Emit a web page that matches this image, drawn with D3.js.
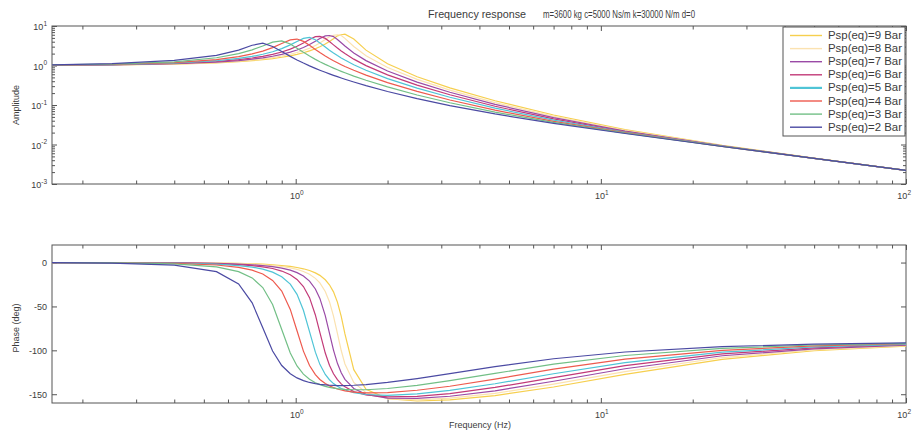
<!DOCTYPE html>
<html>
<head>
<meta charset="utf-8">
<script src="https://cdn.jsdelivr.net/npm/d3@7"></script>
<style>
  body { margin: 0; background: #fff; }
  svg { display: block; }
  text { font-family: "Liberation Sans", Arial, sans-serif; fill: #3c3c3c; }
</style>
</head>
<body>
<svg id="chart" width="912" height="434"></svg>
<script>
// Frequency grid (Hz) shared by every curve
const freqHz = [0.159, 0.25, 0.4, 0.55, 0.65, 0.72, 0.78, 0.84, 0.9, 0.96, 1.01, 1.06, 1.11, 1.16, 1.2, 1.25,
                1.29, 1.33, 1.37, 1.41, 1.45, 1.55, 1.7, 2.0, 2.5, 3.2, 4.5, 7, 12, 25, 50, 100];

// Amplitude ratio for each equivalent air-spring pressure
const amp2 = [1.043, 1.114, 1.345, 1.80, 2.45, 3.25, 3.667, 3.030, 2.257, 1.704, 1.384, 1.152, 0.979, 0.846, 0.761, 0.673,
              0.615, 0.564, 0.521, 0.483, 0.450, 0.382, 0.309, 0.220, 0.145, 0.0966, 0.0593, 0.0344, 0.0190, 0.00891, 0.00443, 0.00221];
const amp3 = [1.033, 1.083, 1.242, 1.569, 1.990, 2.486, 3.126, 3.893, 4.194, 3.497, 2.740, 2.153, 1.733, 1.431, 1.247, 1.068,
              0.954, 0.859, 0.780, 0.712, 0.654, 0.540, 0.423, 0.287, 0.179, 0.114, 0.0659, 0.0362, 0.0194, 0.00895, 0.00443, 0.00221];
const amp4 = [1.025, 1.065, 1.184, 1.412, 1.676, 1.962, 2.319, 2.839, 3.590, 4.458, 4.678, 4.079, 3.233, 2.541, 2.121, 1.735,
              1.504, 1.319, 1.171, 1.049, 0.947, 0.756, 0.570, 0.369, 0.221, 0.134, 0.0740, 0.0386, 0.0199, 0.00901, 0.00444, 0.00221];
const amp5 = [1.021, 1.053, 1.149, 1.321, 1.509, 1.699, 1.923, 2.232, 2.673, 3.326, 4.062, 4.849, 5.121, 4.496, 3.736, 2.931,
              2.443, 2.069, 1.781, 1.555, 1.372, 1.049, 0.758, 0.467, 0.268, 0.157, 0.0832, 0.0414, 0.0205, 0.00908, 0.00445, 0.00221];
const amp6 = [1.018, 1.045, 1.125, 1.263, 1.408, 1.549, 1.708, 1.916, 2.200, 2.599, 3.062, 3.702, 4.541, 5.361, 5.45, 4.852,
              4.047, 3.329, 2.768, 2.338, 2.004, 1.449, 0.993, 0.580, 0.319, 0.182, 0.0929, 0.0444, 0.0212, 0.00916, 0.00446, 0.00222];
const amp7 = [1.015, 1.039, 1.106, 1.221, 1.336, 1.445, 1.564, 1.715, 1.911, 2.173, 2.463, 2.852, 3.386, 4.123, 4.848, 5.6,
              5.75, 5.406, 4.567, 3.767, 3.119, 2.086, 1.330, 0.724, 0.380, 0.210, 0.104, 0.0480, 0.0220, 0.00926, 0.00447, 0.00222];
const amp8 = [1.014, 1.034, 1.093, 1.191, 1.288, 1.377, 1.472, 1.590, 1.739, 1.930, 2.135, 2.397, 2.743, 3.213, 3.707, 4.534,
              5.331, 5.8, 6.0, 5.756, 4.859, 3.041, 1.771, 0.889, 0.444, 0.239, 0.115, 0.0516, 0.0229, 0.00937, 0.00449, 0.00222];
const amp9 = [1.012, 1.031, 1.082, 1.167, 1.250, 1.325, 1.403, 1.498, 1.615, 1.761, 1.913, 2.101, 2.341, 2.650, 2.969, 3.496,
              4.055, 4.773, 5.625, 6.0, 6.2, 4.678, 2.448, 1.103, 0.520, 0.272, 0.128, 0.0557, 0.0239, 0.00949, 0.00450, 0.00222];

// Phase (deg) for each equivalent air-spring pressure
const ph2 = [-0.1, -0.6, -2.9, -10.4, -24.4, -45.9, -74.2, -100.7, -117.3, -126.6, -131.4, -134.5, -136.6, -138.0, -138.8, -139.4,
             -139.8, -140.0, -140.1, -140.2, -140.1, -139.8, -139.0, -136.6, -132.2, -126.5, -118.6, -109.6, -101.9, -95.8, -92.9, -91.5];
const ph3 = [-0.1, -0.3, -1.5, -4.9, -10.3, -17.5, -28.5, -47.8, -76.2, -103.0, -117.8, -127.1, -133.0, -136.9, -139.0, -141.0,
             -142.2, -143.0, -143.7, -144.1, -144.5, -144.9, -144.9, -143.5, -139.9, -134.6, -126.2, -115.8, -105.9, -97.8, -93.9, -92.0];
const ph4 = [-0.1, -0.2, -0.9, -2.8, -5.5, -8.7, -13.1, -20.3, -32.4, -53.4, -77.7, -100.9, -117.3, -127.7, -133.2, -137.9,
             -140.5, -142.5, -144.0, -145.2, -146.1, -147.5, -148.4, -148.1, -145.5, -140.9, -132.8, -121.5, -110.0, -100.0, -95.0, -92.5];
const ph5 = [0, -0.1, -0.6, -1.8, -3.4, -5.2, -7.5, -10.9, -16.1, -24.6, -36.2, -54.4, -78.7, -102.1, -116.0, -127.5,
             -133.5, -137.9, -141.0, -143.4, -145.2, -148.1, -150.3, -151.2, -149.6, -145.7, -138.1, -126.7, -113.9, -102.1, -96.1, -93.1];
const ph6 = [0, -0.1, -0.4, -1.3, -2.3, -3.5, -4.9, -6.8, -9.7, -13.9, -19.2, -27.3, -40.0, -59.7, -79.6, -103.1,
             -116.9, -126.7, -133.4, -138.2, -141.6, -147.0, -150.8, -153.1, -152.4, -149.3, -142.3, -131.1, -117.4, -104.1, -97.2, -93.6];
const ph7 = [0, -0.1, -0.3, -0.9, -1.7, -2.5, -3.4, -4.6, -6.3, -8.7, -11.5, -15.4, -21.2, -30.1, -40.8, -60.4,
             -80.3, -99.7, -114.8, -125.5, -133.0, -143.5, -150.2, -154.4, -154.8, -152.3, -146.1, -135.2, -121.0, -106.2, -98.3, -94.2];
const ph8 = [0, -0.1, -0.3, -0.7, -1.3, -1.8, -2.5, -3.4, -4.5, -6.1, -7.8, -10.2, -13.4, -18.0, -23.2, -32.9,
             -44.6, -61.0, -80.8, -100.2, -115.5, -136.6, -148.3, -155.0, -156.4, -154.5, -149.0, -138.6, -124.2, -108.2, -99.4, -94.7];
const ph9 = [0, 0, -0.2, -0.6, -1.0, -1.4, -1.9, -2.5, -3.4, -4.4, -5.6, -7.1, -9.1, -11.8, -14.6, -19.6,
             -25.3, -33.4, -45.1, -61.4, -81.3, -122.0, -144.4, -155.0, -157.7, -156.4, -151.5, -141.8, -127.3, -110.3, -100.5, -95.3];

// Series order as listed in the legend (first drawn first)
const pressures = [9, 8, 7, 6, 5, 4, 3, 2];
const seriesNames = ["Psp(eq)=9 Bar", "Psp(eq)=8 Bar", "Psp(eq)=7 Bar", "Psp(eq)=6 Bar",
                     "Psp(eq)=5 Bar", "Psp(eq)=4 Bar", "Psp(eq)=3 Bar", "Psp(eq)=2 Bar"];
const seriesColors = ["#f6cf4e", "#fbe2b0", "#9a4aa6", "#c23a78", "#4fc4d6", "#ee5a4e", "#72bf86", "#4b4aa3"];
const ampBySeries = [amp9, amp8, amp7, amp6, amp5, amp4, amp3, amp2];
const phaseBySeries = [ph9, ph8, ph7, ph6, ph5, ph4, ph3, ph2];

// Axis tick labels
const freqTickExp = [0, 1, 2];
const ampTickExp = [1, 0, -1, -2, -3];
const phaseTicks = [0, -50, -100, -150];

const titleLeft = "Frequency response";
const titleRight = "m=3600 kg c=5000 Ns/m k=30000 N/m d=0";

const svg = d3.select("#chart");
const plotL = 52, plotR = 906;
const topY0 = 26, topY1 = 184, botY0 = 245, botY1 = 403;
const frameColor = "#555";

const x = d3.scaleLog().domain([0.159, 100]).range([plotL, plotR]);
const yA = d3.scaleLog().domain([1e-3, 10]).range([topY1, topY0]);
const yP = d3.scaleLinear().domain([-160, 20]).range([botY1, botY0]);

// Minor/major tick positions on log axes
function logTicks(lo, hi) {
  const major = [], minor = [];
  for (let d = Math.floor(Math.log10(lo)); d <= Math.ceil(Math.log10(hi)); d++) {
    for (let k = 1; k <= 9; k++) {
      const v = k * Math.pow(10, d);
      if (v < lo * 0.999 || v > hi * 1.001) continue;
      (k === 1 ? major : minor).push(v);
    }
  }
  return { major, minor };
}
const fTicks = logTicks(0.159, 100);
const aTicks = logTicks(1e-3, 10);

const defs = svg.append("defs");
defs.append("clipPath").attr("id", "clipTop").append("rect")
  .attr("x", plotL).attr("y", topY0).attr("width", plotR - plotL).attr("height", topY1 - topY0);
defs.append("clipPath").attr("id", "clipBot").append("rect")
  .attr("x", plotL).attr("y", botY0).attr("width", plotR - plotL).attr("height", botY1 - botY0);

function styleAxis(g) {
  g.select(".domain").remove();
  g.selectAll("line").attr("stroke", frameColor).attr("stroke-width", 1);
  g.selectAll("text").remove();
}

function drawFrame(y0, y1, yScale, yMajor, yMinor) {
  const g = svg.append("g");
  // x ticks bottom and top
  [[d3.axisBottom, y1], [d3.axisTop, y0]].forEach(([ax, ty]) => {
    g.append("g").attr("transform", `translate(0,${ty})`)
      .call(ax(x).tickValues(fTicks.major).tickSize(-5).tickFormat("")).call(styleAxis);
    g.append("g").attr("transform", `translate(0,${ty})`)
      .call(ax(x).tickValues(fTicks.minor).tickSize(-3.5).tickFormat("")).call(styleAxis);
  });
  // y ticks left and right
  [[d3.axisLeft, plotL], [d3.axisRight, plotR]].forEach(([ax, tx]) => {
    g.append("g").attr("transform", `translate(${tx},0)`)
      .call(ax(yScale).tickValues(yMajor).tickSize(-5).tickFormat("")).call(styleAxis);
    if (yMinor) {
      g.append("g").attr("transform", `translate(${tx},0)`)
        .call(ax(yScale).tickValues(yMinor).tickSize(-3).tickFormat("")).call(styleAxis);
    }
  });
  g.append("rect").attr("x", plotL).attr("y", y0).attr("width", plotR - plotL).attr("height", y1 - y0)
    .attr("fill", "none").attr("stroke", frameColor).attr("stroke-width", 1);
}

function powerLabel(g, px, py, exp, anchor) {
  const t = g.append("text").attr("x", px).attr("y", py).attr("text-anchor", anchor).attr("font-size", 9);
  t.append("tspan").text("10");
  t.append("tspan").attr("dy", -4.5).attr("font-size", 6.5).text(exp);
  return t;
}

// Top panel: amplitude
drawFrame(topY0, topY1, yA, aTicks.major, aTicks.minor);
const ampLine = d3.line().x((d, i) => x(freqHz[i])).y(d => yA(d));
svg.append("g").attr("clip-path", "url(#clipTop)")
  .selectAll("path").data(ampBySeries).join("path")
  .attr("d", d => ampLine(d)).attr("fill", "none")
  .attr("stroke", (d, i) => seriesColors[i]).attr("stroke-width", 1.2);

// Bottom panel: phase
drawFrame(botY0, botY1, yP, phaseTicks, null);
const phLine = d3.line().x((d, i) => x(freqHz[i])).y(d => yP(d));
svg.append("g").attr("clip-path", "url(#clipBot)")
  .selectAll("path").data(phaseBySeries).join("path")
  .attr("d", d => phLine(d)).attr("fill", "none")
  .attr("stroke", (d, i) => seriesColors[i]).attr("stroke-width", 1.2);

// Tick labels (the last decade label sits flush with the right edge)
const labels = svg.append("g");
freqTickExp.forEach((e, i) => {
  const last = i === freqTickExp.length - 1;
  const px = last ? 911 : x(Math.pow(10, e)) + 1;
  const anchor = last ? "end" : "middle";
  powerLabel(labels, px, topY1 + 15, e, anchor);
  powerLabel(labels, px, botY1 + 15, e, anchor);
});
ampTickExp.forEach(e => {
  powerLabel(labels, 47, yA(Math.pow(10, e)) + 4, e, "end");
});
phaseTicks.forEach(v => {
  labels.append("text").attr("x", 47).attr("y", yP(v) + 3.5).attr("text-anchor", "end")
    .attr("font-size", 9).text(v);
});

// Axis titles
labels.append("text").attr("transform", `translate(19,${(topY0 + topY1) / 2}) rotate(-90)`)
  .attr("text-anchor", "middle").attr("font-size", 9).text("Amplitude");
labels.append("text").attr("transform", `translate(19,${(botY0 + botY1) / 2 + 4}) rotate(-90)`)
  .attr("text-anchor", "middle").attr("font-size", 9).text("Phase (deg)");
labels.append("text").attr("x", 480).attr("y", 428).attr("text-anchor", "middle")
  .attr("font-size", 9).text("Frequency (Hz)");

// Title
labels.append("text").attr("x", 428).attr("y", 18).attr("font-size", 10)
  .attr("textLength", 98).attr("lengthAdjust", "spacingAndGlyphs").text(titleLeft);
labels.append("text").attr("x", 543).attr("y", 18).attr("font-size", 10)
  .attr("textLength", 152).attr("lengthAdjust", "spacingAndGlyphs").text(titleRight);

// Legend
const lg = svg.append("g");
const lgX = 783, lgY = 27, lgW = 122, lgRow = 13.1;
lg.append("rect").attr("x", lgX).attr("y", lgY).attr("width", lgW).attr("height", 109)
  .attr("fill", "#fff").attr("stroke", frameColor).attr("stroke-width", 1);
seriesNames.forEach((name, i) => {
  const cy = lgY + 8.5 + i * lgRow;
  lg.append("line").attr("x1", lgX + 7).attr("x2", lgX + 39).attr("y1", cy).attr("y2", cy)
    .attr("stroke", seriesColors[i]).attr("stroke-width", pressures[i] === 5 ? 2.2 : 1.4);
  lg.append("text").attr("x", lgX + 45).attr("y", cy + 3.5).attr("font-size", 10)
    .attr("textLength", 74).attr("lengthAdjust", "spacingAndGlyphs").text(name);
});
</script>
</body>
</html>
